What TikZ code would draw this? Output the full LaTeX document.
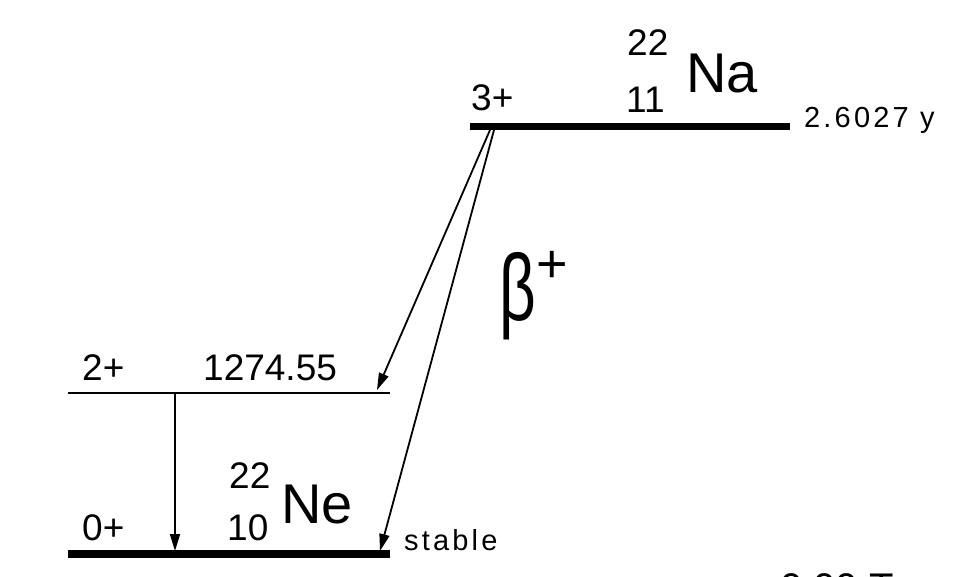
\documentclass[tikz,border=0pt]{standalone}
\usepackage{fontspec}
\setmainfont{Liberation Sans}
\usetikzlibrary{arrows.meta}
\begin{document}
\begin{tikzpicture}[x=1pt,y=-1pt,
  lbl/.style={inner sep=0pt,anchor=base west,font=\fontsize{37}{37}\selectfont},
  elem/.style={inner sep=0pt,anchor=base west,font=\fontsize{56}{56}\selectfont},
  small/.style={inner sep=0pt,anchor=base west,font=\fontsize{29}{29}\selectfont\addfontfeature{LetterSpace=11}},
  thicklevel/.style={line width=7.5pt},
  thinlevel/.style={line width=2pt},
  trans/.style={line width=1.8pt,-{Triangle[length=17pt,width=10pt]}}]
\useasboundingbox (0,0) rectangle (974,576);
% levels
\coordinate (naL) at (470,126.5);
\coordinate (naR) at (790,126.5);
\coordinate (e2L) at (68,393);
\coordinate (e2R) at (390,393);
\coordinate (gsL) at (68,554);
\coordinate (gsR) at (390,554);
\draw[thicklevel] (naL) -- (naR);
\draw[thinlevel] (e2L) -- (e2R);
\draw[thicklevel,line width=8pt] (gsL) -- (gsR);
% labels
\node[lbl] (na3) at (471,110) {3+};
\node[lbl] (naA) at (627,55) {22};
\node[lbl] (naZ) at (626,112) {11};
\node[elem] (naSym) at (686,92) {Na};
\node[small] (naHL) at (804,127) {2.6027 y};
\node[lbl] (e2J) at (82,380) {2+};
\node[lbl] (e2E) at (203,380) {1274.55};
\node[lbl] (neA) at (229,488) {22};
\node[lbl] (neZ) at (227,540) {10};
\node[elem] (neSym) at (281,523) {Ne};
\node[lbl] (gsJ) at (82,540) {0+};
\node[small] (gsHL) at (404,550) {stable};
\node[inner sep=0pt,anchor=base west,font=\fontsize{94}{94}\selectfont] (beta) at (499,320) {\scalebox{0.68}[1]{β}};
\node[inner sep=0pt,font=\fontsize{54}{54}\selectfont] (betaplus) at (552,267) {+};
\node[inner sep=0pt,anchor=base west,font=\fontsize{40}{40}\selectfont] (cut) at (780,601) {0.00 T};
% transitions
\coordinate (b1s) at (490,130);
\coordinate (b1e) at (377,390);
\coordinate (b2s) at (494,130);
\coordinate (b2e) at (380,551);
\coordinate (gs) at (175,393);
\coordinate (ge) at (175,551);
\draw[trans] (b1s) -- (b1e);
\draw[trans] (b2s) -- (b2e);
\draw[trans] (gs) -- (ge);
\end{tikzpicture}
\end{document}
